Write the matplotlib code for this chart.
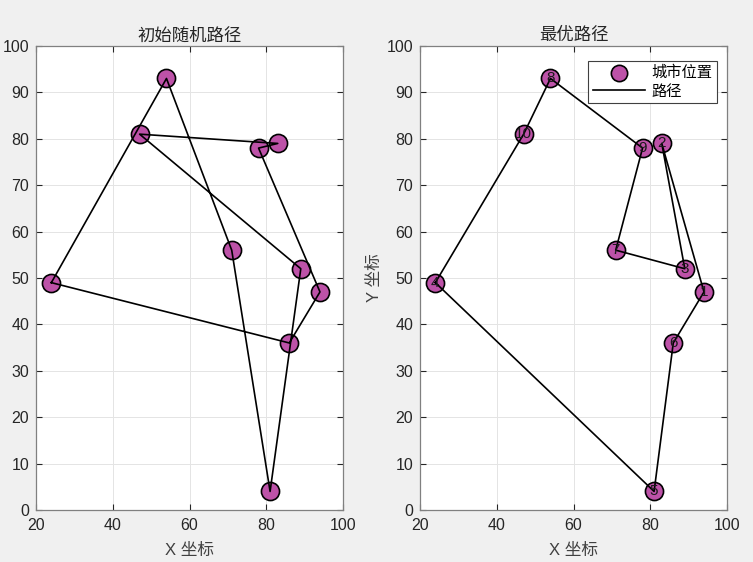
import matplotlib.pyplot as plt
import numpy as np

plt.rcParams['font.family'] = ['Liberation Sans', 'Noto Sans CJK SC', 'DejaVu Sans']

# 城市坐标 (编号 1..10)
city_x = [94, 83, 89, 24, 81, 86, 71, 54, 78, 47]
city_y = [47, 79, 52, 49, 4, 36, 56, 93, 78, 81]

# 路径 (城市编号, 首尾相连)
init_route = [4, 8, 7, 5, 3, 10, 2, 9, 1, 6]
best_route = [4, 10, 8, 9, 7, 3, 2, 1, 6, 5]

x_ticks = [20, 40, 60, 80, 100]
y_ticks = [0, 10, 20, 30, 40, 50, 60, 70, 80, 90, 100]

face = '#BD52A8'
txt_col = '#262626'


def route_xy(route):
    idx = [r - 1 for r in route] + [route[0] - 1]
    return [city_x[i] for i in idx], [city_y[i] for i in idx]


def style(ax, title):
    ax.set_xlim(20, 100)
    ax.set_ylim(0, 100)
    ax.set_xticks(x_ticks)
    ax.set_yticks(y_ticks)
    ax.grid(True, color='#e4e4e4', linewidth=0.7)
    ax.set_axisbelow(True)
    ax.tick_params(direction='in', top=True, right=True, length=4,
                   colors='#262626', labelsize=11.5)
    ax.tick_params(axis='x', pad=6)
    ax.tick_params(axis='y', pad=5)
    for s in ax.spines.values():
        s.set_color('#808080')
        s.set_linewidth(0.9)
    ax.set_title(title, fontsize=12.5, color=txt_col, pad=4)
    ax.set_xlabel('X 坐标', fontsize=12, color='#404040', labelpad=7)


fig = plt.figure(figsize=(7.53, 5.62), dpi=100, facecolor='#f0f0f0')
ax1 = fig.add_axes([36 / 753, 1 - 510 / 562, 307 / 753, 464 / 562])
ax2 = fig.add_axes([420 / 753, 1 - 510 / 562, 307 / 753, 464 / 562])

# 初始随机路径
ax1.scatter(city_x, city_y, s=170, c=face, edgecolors='black', linewidths=1.2, zorder=2)
rx, ry = route_xy(init_route)
ax1.plot(rx, ry, color='black', linewidth=1.2, zorder=3)
style(ax1, '初始随机路径')

# 最优路径
ax2.scatter(city_x, city_y, s=170, c=face, edgecolors='black', linewidths=1.2,
            zorder=2, label='城市位置')
rx, ry = route_xy(best_route)
ax2.plot(rx, ry, color='black', linewidth=1.2, zorder=3, label='路径')
for i in range(len(city_x)):
    ax2.text(city_x[i], city_y[i], str(i + 1), ha='center', va='center',
             fontsize=11, color='#1a1a1a', zorder=4)
style(ax2, '最优路径')
ax2.set_ylabel('Y 坐标', fontsize=12, color='#404040', labelpad=3)

leg = ax2.legend(loc='upper right', bbox_to_anchor=(717 / 753, 1 - 61 / 562),
                 bbox_transform=fig.transFigure, fontsize=11, frameon=True,
                 fancybox=False, edgecolor='#404040', borderaxespad=0,
                 handlelength=3.4, borderpad=0.3, labelspacing=0.3,
                 handletextpad=0.45, markerscale=0.9, framealpha=1)
leg.get_frame().set_linewidth(0.8)

fig.savefig('out.png', dpi=100, facecolor=fig.get_facecolor())
